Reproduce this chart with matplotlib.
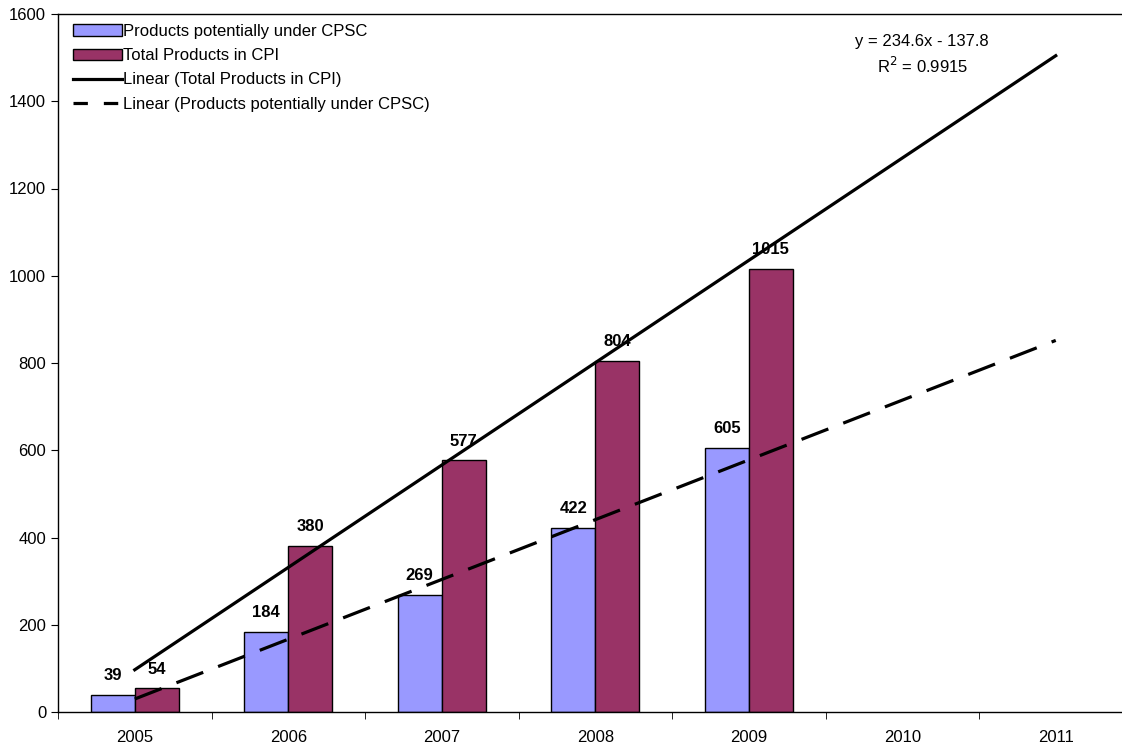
import numpy as np
import matplotlib.pyplot as plt
from matplotlib.patches import Patch
from matplotlib.lines import Line2D

plt.rcParams['font.family'] = ['Liberation Sans', 'DejaVu Sans']

years = ['2005', '2006', '2007', '2008', '2009', '2010', '2011']
cpsc = [39, 184, 269, 422, 605]
total = [54, 380, 577, 804, 1015]

col_cpsc = '#9999FF'
col_total = '#993366'


def main():
    fig = plt.figure(figsize=(11.22, 7.44), dpi=100)
    ax = fig.add_axes([58 / 1122, 1 - 712 / 744, 1074.5 / 1122, 698 / 744])

    x = np.arange(len(cpsc))
    w = 0.287
    ax.bar(x - w / 2, cpsc, w, color=col_cpsc, edgecolor='black', linewidth=1)
    ax.bar(x + w / 2, total, w, color=col_total, edgecolor='black', linewidth=1)

    # etiquetas de valores
    for xi, v in zip(x, cpsc):
        ax.text(xi - w / 2, v + 27, str(v), ha='center', va='bottom',
                fontsize=12, fontweight='bold')
    for xi, v in zip(x, total):
        ax.text(xi + w / 2, v + 27, str(v), ha='center', va='bottom',
                fontsize=12, fontweight='bold')

    # lineas de tendencia lineal (como en Excel, x = 1..n)
    xs = np.arange(1, len(cpsc) + 1)
    m_t, b_t = np.polyfit(xs, total, 1)
    m_c, b_c = np.polyfit(xs, cpsc, 1)
    xf = np.array([1, len(years)])
    ax.plot(xf - 1, m_t * xf + b_t, color='black', linewidth=2.3)
    ax.plot(xf - 1, m_c * xf + b_c, color='black', linewidth=2.3,
            dashes=(9, 5))

    ax.text(5.13, 1536, 'y = %.1fx - %.1f' % (m_t, -b_t), ha='center',
            va='center', fontsize=12)
    ax.text(5.13, 1481, r'R$^2$ = 0.9915', ha='center', va='center',
            fontsize=12)

    ax.set_xlim(-0.5, len(years) - 0.5)
    ax.set_ylim(0, 1600)
    ax.set_yticks(range(0, 1601, 200))
    ax.set_xticks(np.arange(len(years)))
    ax.set_xticklabels(years)
    ax.set_xticks(np.arange(len(years) + 1) - 0.5, minor=True)
    ax.tick_params(axis='x', which='major', length=0, pad=13, labelsize=12)
    ax.tick_params(axis='x', which='minor', length=5, direction='out')
    ax.tick_params(axis='y', length=5, direction='out', labelsize=12)
    ax.spines['right'].set_visible(False)
    for s in ['left', 'bottom', 'top']:
        ax.spines[s].set_linewidth(1)

    handles = [
        Patch(facecolor=col_cpsc, edgecolor='black'),
        Patch(facecolor=col_total, edgecolor='black'),
        Line2D([], [], color='black', linewidth=2.3),
        Line2D([], [], color='black', linewidth=2.3, dashes=(4.5, 5)),
    ]
    labels = ['Products potentially under CPSC', 'Total Products in CPI',
              'Linear (Total Products in CPI)',
              'Linear (Products potentially under CPSC)']
    ax.legend(handles, labels, loc='upper left', frameon=False, fontsize=12,
              handlelength=2.9, handletextpad=0.1, labelspacing=0.55,
              borderaxespad=0.2, bbox_to_anchor=(0.005, 1.0))

    fig.savefig('out.png', dpi=100)


if __name__ == '__main__':
    main()
